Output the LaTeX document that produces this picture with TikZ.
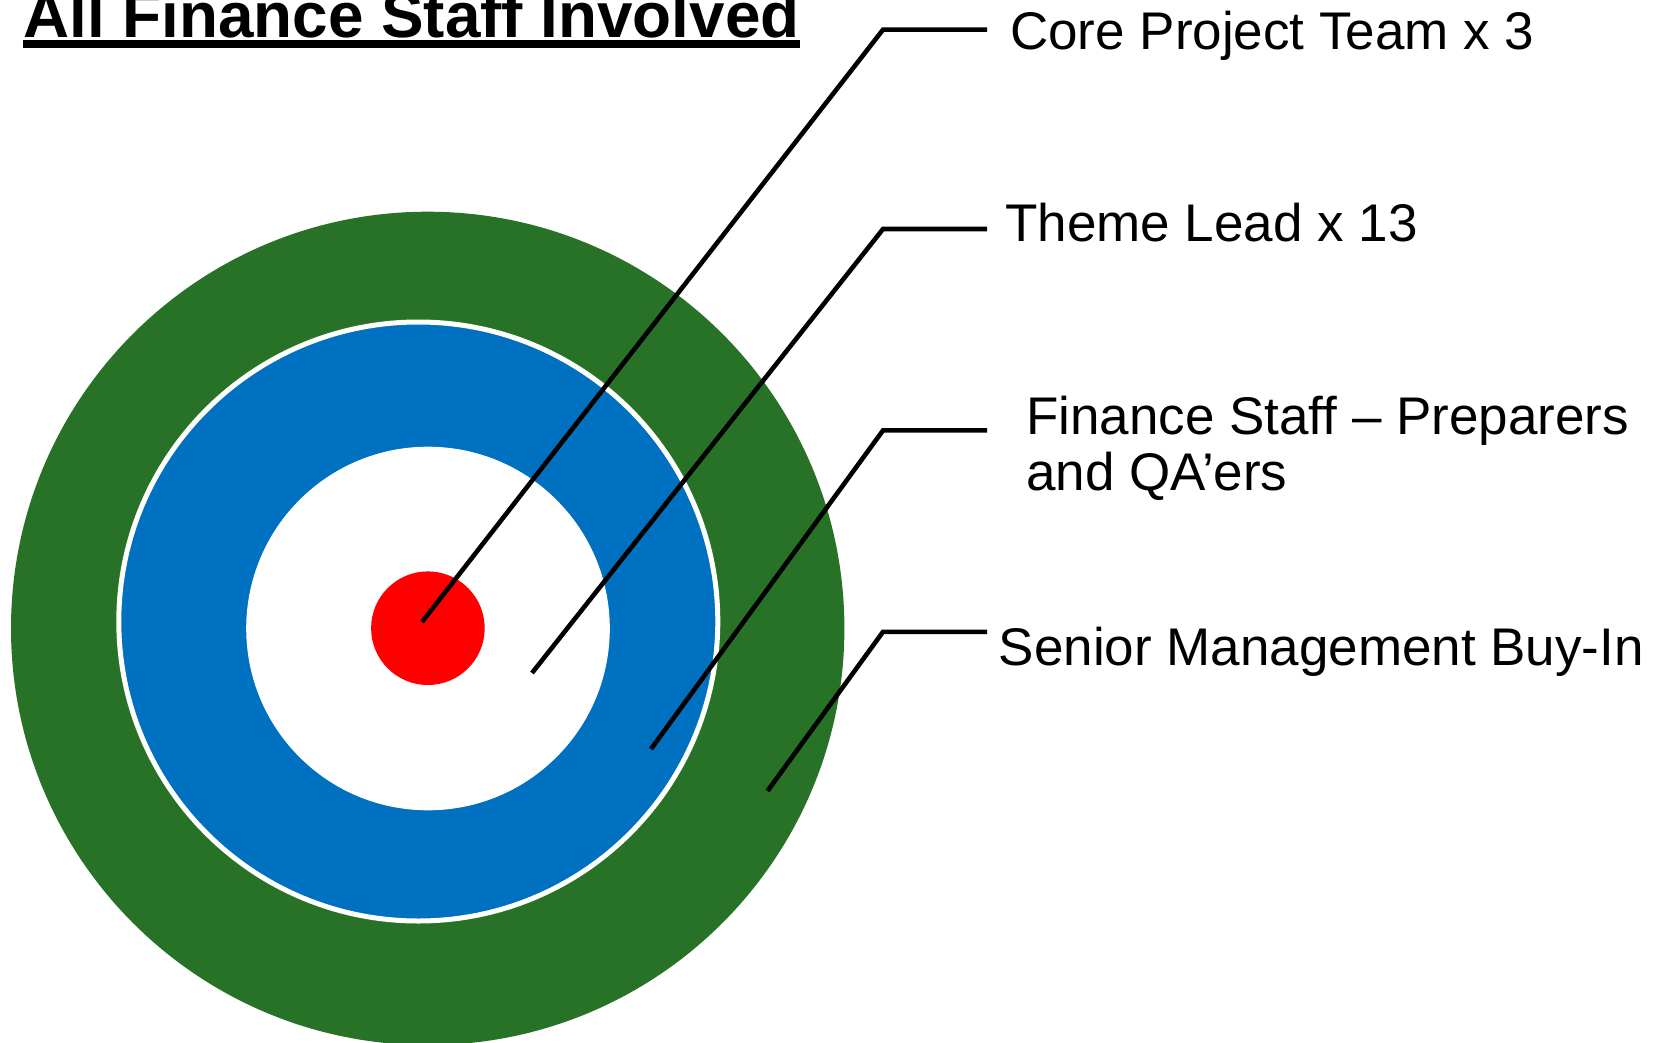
\documentclass[tikz,border=0pt]{standalone}
\usepackage{fontspec}
\setmainfont{Liberation Sans}
\definecolor{ringgreen}{HTML}{287228}
\definecolor{ringblue}{HTML}{0070C0}
\definecolor{ringred}{HTML}{FF0000}
\begin{document}
\begin{tikzpicture}[x=1pt,y=-1pt,
  lab/.style={anchor=base west, inner sep=0pt, font=\fontsize{53}{56}\selectfont},
  leader/.style={line width=4.6pt, black}]
\useasboundingbox (0,0) rectangle (1662,1043);
% target rings
\fill[ringgreen] (427.7,628.4) circle[radius=416.7pt];
\filldraw[fill=ringblue, draw=white, line width=5pt] (418.3,621.5) circle[radius=299.5pt];
\fill[white] (428,628.5) circle[radius=181.8pt];
\fill[ringred] (427.9,628.2) circle[radius=56.8pt];
% title
\node[anchor=base west, inner sep=0pt, font=\fontsize{63.8}{70}\selectfont\bfseries] (title) at (23,38) {All Finance Staff Involved};
\draw[line width=7.4pt] ([yshift=-6pt]title.base west) -- ([yshift=-6pt]title.base east);
% labels
\node[lab] (lab1) at (1010,49.8) {Core Project Team x 3};
\node[lab] (lab2) at (1005,241.7) {Theme Lead x 13};
\node[lab] (lab3a) at (1026,434.6) {Finance Staff – Preparers};
\node[lab] (lab3b) at (1026,490.8) {and QA’ers};
\node[lab] (lab4) at (998.5,665.7) {Senior Management Buy-In};
% leader lines
\coordinate (p1) at (422,622);   \coordinate (k1) at (883,29.7);  \coordinate (e1) at (987,29.7);
\coordinate (p2) at (532,673);   \coordinate (k2) at (883,229);   \coordinate (e2) at (987,229);
\coordinate (p3) at (651,749);   \coordinate (k3) at (883,430.4); \coordinate (e3) at (987,430.4);
\coordinate (p4) at (767.5,791); \coordinate (k4) at (883,631.8); \coordinate (e4) at (987,631.8);
\draw[leader] (p1) -- (k1) -- (e1);
\draw[leader] (p2) -- (k2) -- (e2);
\draw[leader] (p3) -- (k3) -- (e3);
\draw[leader] (p4) -- (k4) -- (e4);
\end{tikzpicture}
\end{document}
